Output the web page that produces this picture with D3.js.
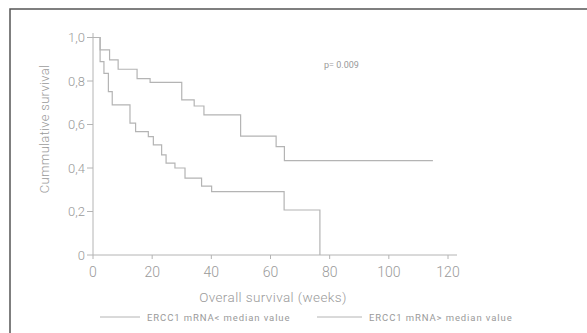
<!DOCTYPE html>
<html><head><meta charset="utf-8">
<script src="https://cdn.jsdelivr.net/npm/d3@7"></script>
<style>
html,body{margin:0;padding:0;background:#fff;}
svg{display:block;}
text{font-family:Roboto,"DejaVu Sans",sans-serif;fill:#9a9a9a;}
</style></head>
<body><svg id="c" width="587" height="333"></svg>
<script>
// Data
const xTicks = [0, 20, 40, 60, 80, 100, 120];
const yTicks = [0, 0.2, 0.4, 0.6, 0.8, 1.0];
const yTickLabels = ["0", "0,2", "0,4", "0,6", "0,8", "1,0"];
const seriesNames = ["ERCC1 mRNA< median value", "ERCC1 mRNA> median value"];
// upper curve
const weeksA = [0, 2.4, 5.6, 8.5, 14.9, 19.3, 30.0, 34.2, 37.5, 49.9, 61.9, 64.7, 114.9];
const survA  = [1, 0.943, 0.897, 0.854, 0.811, 0.794, 0.713, 0.685, 0.644, 0.547, 0.498, 0.434, 0.434];
// lower curve
const weeksB = [0, 2.4, 3.7, 5.2, 6.5, 12.5, 14.4, 18.7, 20.4, 23.2, 24.7, 27.7, 31.1, 36.7, 40.1, 64.6, 76.7];
const survB  = [1, 0.889, 0.835, 0.751, 0.690, 0.606, 0.567, 0.544, 0.506, 0.460, 0.422, 0.400, 0.353, 0.317, 0.291, 0.207, 0];
const pText = "p= 0.009";

const svg = d3.select("#c");
// frame
svg.append("rect").attr("x",10).attr("y",9).attr("width",600).attr("height",340)
  .attr("fill","none").attr("stroke","#555").attr("stroke-width",1.5);

const x = d3.scaleLinear().domain([0,120]).range([93,448]);
const y = d3.scaleLinear().domain([0,1]).range([255,37.5]);
const lineC = "#b4b4b4";

// axes
const gx = svg.append("g").attr("transform","translate(0,"+y(0)+")");
gx.append("line").attr("x1",x(0)).attr("x2",457).attr("stroke",lineC);
gx.selectAll("g").data(xTicks).join("g").each(function(d){
  const g=d3.select(this);
  g.append("line").attr("x1",x(d)).attr("x2",x(d)).attr("y1",0).attr("y2",4).attr("stroke",lineC);
  g.append("text").attr("x",x(d)).attr("y",22).attr("text-anchor","middle")
   .attr("font-size",14).attr("font-weight",300).text(d);
});
const gy = svg.append("g");
gy.append("line").attr("x1",x(0)).attr("x2",x(0)).attr("y1",y(0)).attr("y2",33).attr("stroke",lineC);
gy.selectAll("g").data(yTicks).join("g").each(function(d,i){
  const g=d3.select(this);
  g.append("line").attr("x1",x(0)-6).attr("x2",x(0)).attr("y1",y(d)).attr("y2",y(d)).attr("stroke",lineC);
  g.append("text").attr("x",x(0)-8).attr("y",y(d)+4.5).attr("text-anchor","end")
   .attr("font-size",13).attr("font-weight",300).text(yTickLabels[i]);
});

// curves
const line = d3.line().x(d=>x(d[0])).y(d=>y(d[1])).curve(d3.curveStepAfter);
[[weeksA,survA],[weeksB,survB]].forEach(([w,s])=>{
  svg.append("path").attr("d",line(w.map((v,i)=>[v,s[i]])))
    .attr("fill","none").attr("stroke",lineC).attr("stroke-width",1.2);
});

// labels
svg.append("text").attr("transform","translate(49,129) rotate(-90)").attr("text-anchor","middle")
  .attr("font-size",13).attr("font-weight",300).attr("letter-spacing",0.3).text("Cummulative survival");
svg.append("text").attr("x",273).attr("y",302).attr("text-anchor","middle")
  .attr("font-size",13.5).attr("font-weight",300).attr("letter-spacing",0.4).text("Overall survival (weeks)");
svg.append("text").attr("x",324).attr("y",68).attr("font-size",9).text(pText);

// legend
const leg = [{x1:100,x2:140,tx:147},{x1:317,x2:362,tx:369}];
leg.forEach((l,i)=>{
  svg.append("line").attr("x1",l.x1).attr("x2",l.x2).attr("y1",317).attr("y2",317).attr("stroke",lineC);
  svg.append("text").attr("x",l.tx).attr("y",320.5).attr("font-size",9.5).attr("letter-spacing",0.9).text(seriesNames[i]);
});
</script></body></html>
